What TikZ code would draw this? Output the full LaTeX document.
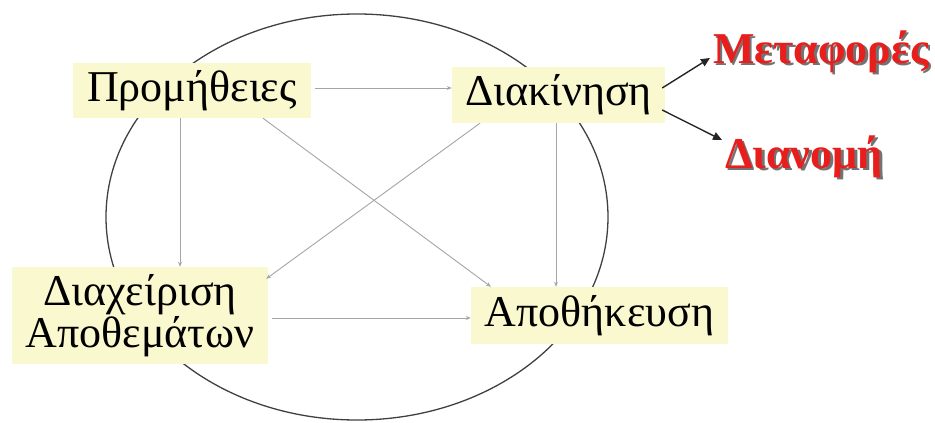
\documentclass[tikz,border=0pt]{standalone}
\usepackage{fontspec}
\setmainfont{Liberation Serif}
\usetikzlibrary{arrows.meta,calc}
\definecolor{boxfill}{RGB}{250,248,206}
\definecolor{redtxt}{RGB}{232,30,28}
\definecolor{conline}{RGB}{165,165,165}
\newcommand{\shadowtext}[1]{\makebox[0pt][l]{\hspace{2.5pt}\raisebox{-2.5pt}{\color{black!55}#1}}\textcolor{redtxt}{#1}}
\begin{document}
\begin{tikzpicture}[x=1pt,y=-1pt,
  box/.style={fill=boxfill,draw=none,inner sep=0pt,align=center,
    font=\fontsize{44}{39}\selectfont},
  con/.style={draw=conline,line width=0.9pt,-{Stealth[length=5pt,width=4pt]}},
  outarr/.style={draw=black!85,line width=1.4pt,-{Triangle[length=9pt,width=8pt]}},
  redlab/.style={inner sep=0pt,anchor=base west,
    font=\fontsize{44}{44}\selectfont\bfseries}]
\useasboundingbox (0,0) rectangle (935,423);
% ellipse
\draw[black!75,line width=1.3pt] (357,217) ellipse [x radius=251, y radius=203];
% boxes
\node[box,minimum width=238pt,minimum height=55pt] (pro) at (192,90.5) {Προμήθειες};
\node[box,minimum width=213pt,minimum height=56pt] (dia) at (558.5,95) {Διακίνηση};
\node[box,minimum width=256pt,minimum height=97pt] (dx) at (140,315.5) {Διαχείριση\\Αποθεμάτων};
\node[box,minimum width=257pt,minimum height=57pt] (apo) at (599.5,315.5) {Αποθήκευση};
% red labels
\node[redlab] (meta) at (713,63) {\shadowtext{Μεταφορές}};
\node[redlab] (dian) at (725,168) {\shadowtext{Διανομή}};
% connectors
\draw[con] ([xshift=4pt,yshift=2.5pt]pro.east) -- ([yshift=7pt]dia.west);
\draw[con] ([xshift=-12pt]pro.south) -- ([xshift=40pt]dx.north);
\draw[con] ([xshift=71pt]pro.south) -- ([xshift=-108.5pt]apo.north);
\draw[con] ([xshift=-78.5pt]dia.south) -- ([xshift=-2pt,yshift=-12pt]dx.north east);
\draw[con] ([xshift=-2.5pt]dia.south) -- ([xshift=-43.5pt]apo.north);
\draw[con] ([xshift=4pt,yshift=-2.5pt]dx.east) -- ([yshift=-2.5pt]apo.west);
% outgoing arrows
\draw[outarr] ([xshift=-3pt,yshift=7pt]dia.east) -- ([xshift=-3pt,yshift=5pt]meta.base west);
\draw[outarr] ([xshift=-3pt,yshift=-15pt]dia.east) -- ([xshift=-3pt,yshift=28pt]dian.base west);
\end{tikzpicture}
\end{document}
